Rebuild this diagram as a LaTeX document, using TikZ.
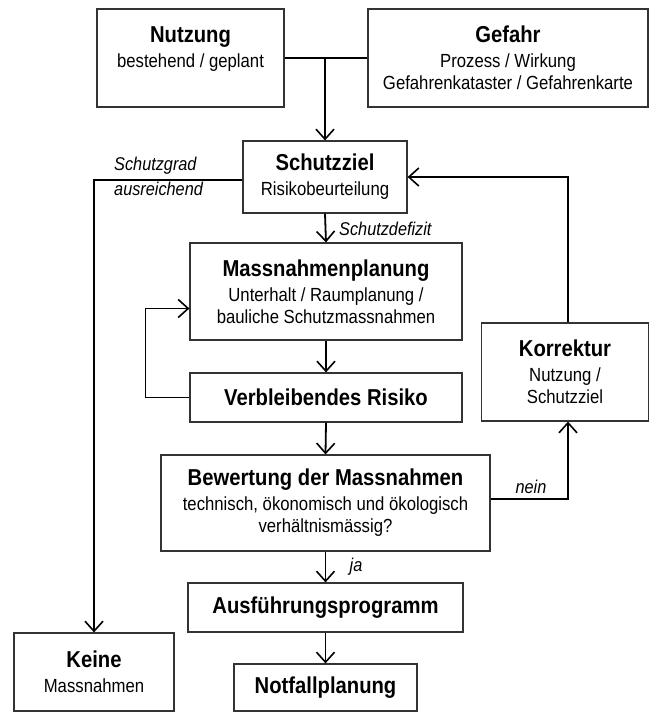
\documentclass[tikz,border=0pt]{standalone}
\usepackage{fontspec}
\setmainfont{Liberation Sans}[FakeStretch=0.88]
\usetikzlibrary{arrows.meta}
\newcommand\ttl[1]{{\fontsize{23}{24}\selectfont\bfseries #1}}
\begin{document}
\begin{tikzpicture}[x=1pt,y=-1pt,
  box/.style={draw=black!80, line width=1.2pt, align=center, inner sep=0pt,
    font=\fontsize{19}{22}\selectfont},
  lab/.style={font=\fontsize{18.5}{20}\selectfont\itshape, inner sep=0pt},
  conn/.style={line width=1.8pt},
  arr/.style={conn, -{Straight Barb[length=10pt,width=18pt,line width=1.6pt]}}]
\useasboundingbox (0,0) rectangle (650,713);
\node[box, minimum width=187, minimum height=98] (nutz) at (190.5,58)
  {\ttl{Nutzung}\\[3pt] bestehend / geplant\\ \mbox{}};
\node[box, minimum width=280, minimum height=98] (gef) at (508,58)
  {\ttl{Gefahr}\\[3pt] Prozess / Wirkung\\ Gefahrenkataster / Gefahrenkarte};
\node[box, minimum width=164, minimum height=72] (schutz) at (325,177)
  {\ttl{Schutzziel}\\[3pt] Risikobeurteilung};
\node[box, minimum width=272, minimum height=97] (mass) at (326,291.5)
  {\ttl{Massnahmenplanung}\\[3pt] Unterhalt / Raumplanung /\\ bauliche Schutzmassnahmen};
\node[box, minimum width=272, minimum height=49] (verb) at (326,397.5)
  {\ttl{Verbleibendes Risiko}};
\node[box, minimum width=167, minimum height=98] (korr) at (565,372)
  {\ttl{Korrektur}\\[3pt] Nutzung /\\ Schutzziel};
\node[box, minimum width=329, minimum height=96] (bew) at (325.5,503)
  {\ttl{Bewertung der Massnahmen}\\[3pt] technisch, ökonomisch und ökologisch\\ verhältnismässig?};
\node[box, minimum width=275, minimum height=49] (ausf) at (325.5,607.5)
  {\ttl{Ausführungsprogramm}};
\node[box, minimum width=183, minimum height=47] (notf) at (325.5,687.5)
  {\ttl{Notfallplanung}};
\node[box, minimum width=160, minimum height=78] (keine) at (94,672)
  {\ttl{Keine}\\[3pt] Massnahmen};

\coordinate (J) at (nutz.east -| schutz.north);
\draw[conn] (nutz.east) -- (gef.west);
\draw[arr] (J) -- (schutz.north);
\draw[arr] ([yshift=-3pt]schutz.west) -| (keine.north);
\draw[arr] ([xshift=3pt]korr.north) |- (schutz.east);
\draw[arr] (schutz.south) -- (mass.north);
\draw[arr] (mass.south) -- (verb.north);
\draw[arr] (verb.west) -- ++(-44,0) |- ([yshift=-17pt]mass.west);
\draw[arr] (verb.south) -- (bew.north);
\draw[arr] ([yshift=4pt]bew.east) -| ([xshift=3pt]korr.south);
\draw[arr] (bew.south) -- (ausf.north);
\draw[arr] (ausf.south) -- (notf.north);

\node[lab, anchor=west] (lsg) at (114,166) {Schutzgrad};
\node[lab, anchor=west] (lau) at (114,189) {ausreichend};
\node[lab, anchor=west] (lsd) at (339,229) {Schutzdefizit};
\node[lab] (lnein) at (531,487) {nein};
\node[lab] (lja) at (356,567) {ja};
\end{tikzpicture}
\end{document}
